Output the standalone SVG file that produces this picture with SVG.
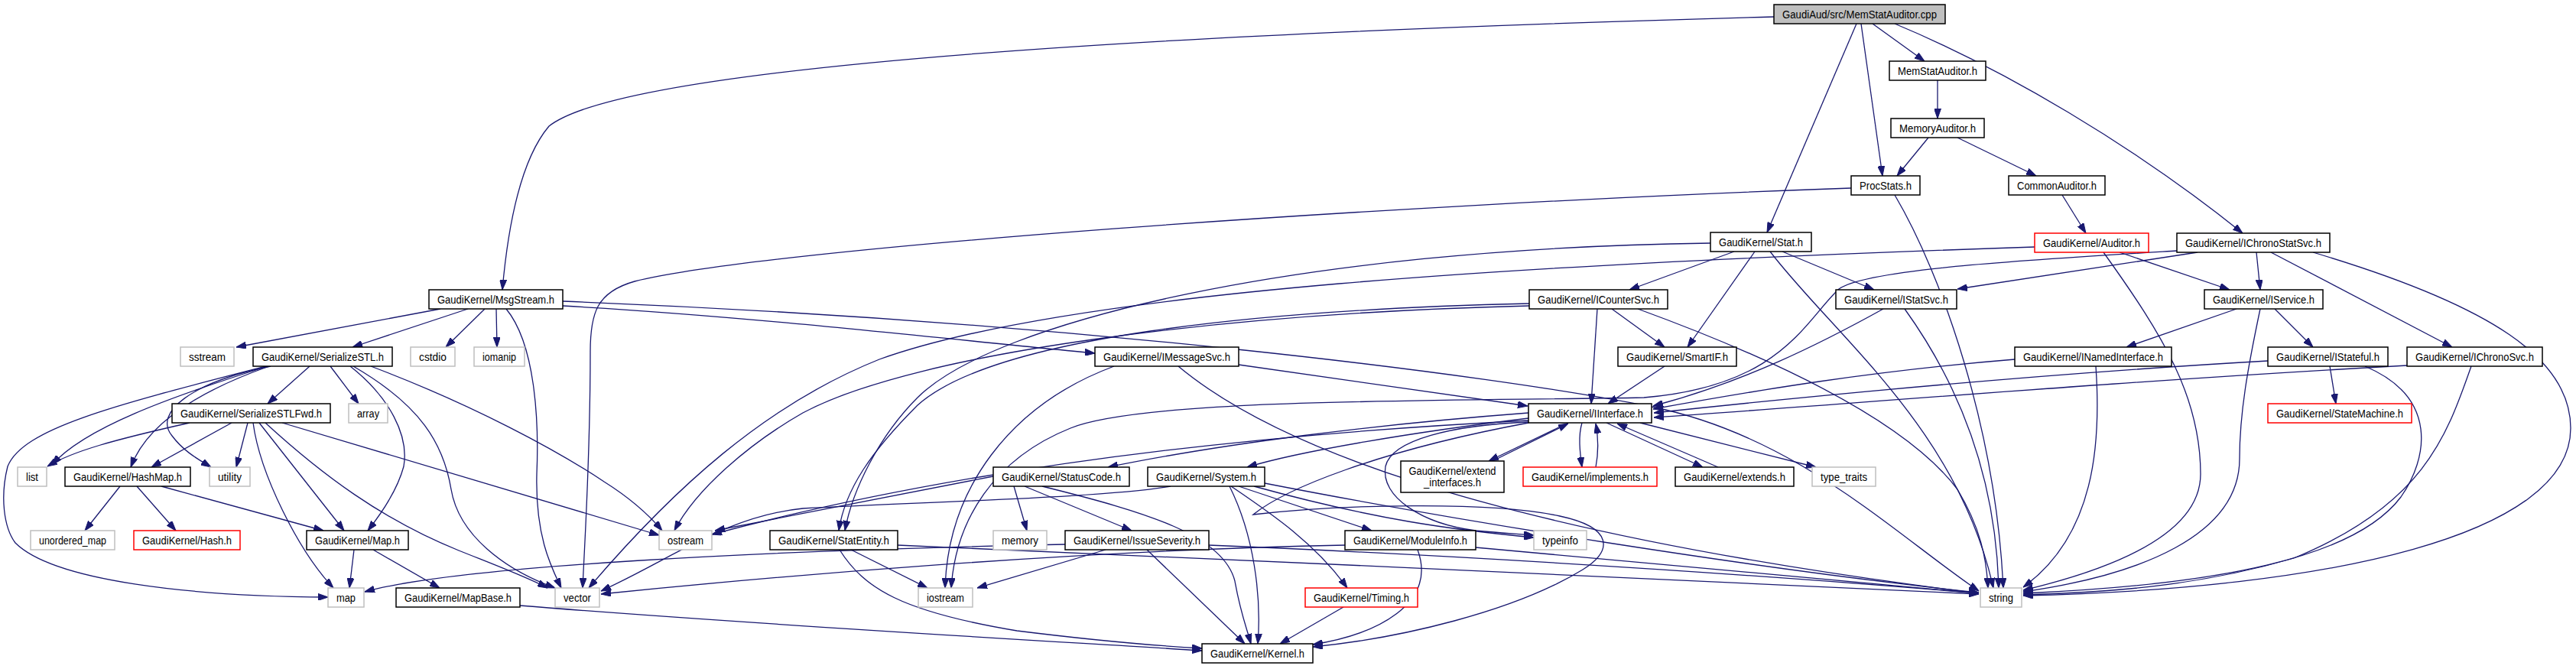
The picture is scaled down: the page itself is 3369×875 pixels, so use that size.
<svg xmlns="http://www.w3.org/2000/svg" width="3369" height="875" viewBox="0 0 3369 875">
<style>
.e{fill:none;stroke:#191970;stroke-width:1.3;marker-end:url(#a)}
.nd rect{fill:#fff;stroke:#000;stroke-width:1.5}
.g rect{stroke:#bfbfbf}
.r rect{stroke:#ff0000}
.top rect{fill:#bfbfbf}
text{font-family:"Liberation Sans",Arial,sans-serif;font-size:14px;text-anchor:middle;fill:#000}
</style>
<defs>
<marker id="a" viewBox="0 0 13 9" refX="13" refY="4.5" markerWidth="13" markerHeight="9" markerUnits="userSpaceOnUse" orient="auto"><path d="M0,0L13,4.5L0,9z" fill="#191970" stroke="#191970" stroke-width="1"/></marker>
</defs>
<rect width="3369" height="875" fill="#fff"/>
<g id="edges">
<path class="e" d="M2320,22 C1300,50 800,100 718,165 C680,210 664,300 657,379"/>
<path class="e" d="M2428,31 L2311,304"/>
<path class="e" d="M2434,31 L2462,230"/>
<path class="e" d="M2449,31 L2517,80"/>
<path class="e" d="M2478,31 C2620,90 2790,190 2933,305"/>
<path class="e" d="M2534,105 L2534,155"/>
<path class="e" d="M2522,180 L2481,230"/>
<path class="e" d="M2560,180 L2663,230"/>
<path class="e" d="M2697,255 L2728,305"/>
<path class="e" d="M2421,246 C1800,268 1000,325 830,368 C780,382 772,410 772,460 C772,600 765,700 762,769"/>
<path class="e" d="M2478,255 C2540,360 2610,560 2620,769"/>
<path class="e" d="M2772,330 L2916,379"/>
<path class="e" d="M2751,330 C2830,440 2878,520 2878,620 C2878,700 2760,745 2646,772"/>
<path class="e" d="M2661,323 C2000,345 1400,380 1150,470 C1000,530 880,640 770,769"/>
<path class="e" d="M2268,329 L2131,379"/>
<path class="e" d="M2295,329 L2207,454"/>
<path class="e" d="M2331,329 L2451,379"/>
<path class="e" d="M2315,329 C2400,440 2560,560 2607,769"/>
<path class="e" d="M2237,318 C1700,325 1300,420 1200,520 C1150,570 1115,640 1105,694"/>
<path class="e" d="M2089,404 L2081,528"/>
<path class="e" d="M2108,404 L2177,454"/>
<path class="e" d="M2142,404 C2350,480 2500,560 2560,640 C2590,690 2598,730 2600,769"/>
<path class="e" d="M2000,397 C1650,405 1300,440 1200,530 C1140,590 1105,640 1097,694"/>
<path class="e" d="M2000,400 C1600,410 1200,460 1050,540 C980,580 910,640 882,694"/>
<path class="e" d="M2463,404 C2380,450 2280,500 2162,531"/>
<path class="e" d="M2491,404 C2560,500 2610,620 2614,769"/>
<path class="e" d="M2951,330 L2956,379"/>
<path class="e" d="M2970,330 L3207,454"/>
<path class="e" d="M3025,330 C3260,400 3362,470 3362,560 C3362,700 3050,770 2646,779"/>
<path class="e" d="M2874,330 L2560,378"/>
<path class="e" d="M2847,328 C2650,340 2440,352 2405,378 C2360,420 2330,505 2150,520 C1900,525 1500,520 1400,560 C1300,600 1250,680 1244,769"/>
<path class="e" d="M2925,404 L2781,454"/>
<path class="e" d="M2975,404 L3025,454"/>
<path class="e" d="M2956,404 C2940,480 2929,540 2929,600 C2929,700 2800,752 2646,774"/>
<path class="e" d="M2635,470 C2450,485 2300,510 2162,535"/>
<path class="e" d="M2741,479 C2748,580 2740,700 2646,768"/>
<path class="e" d="M3047,479 L3055,528"/>
<path class="e" d="M2966,472 C2650,490 2350,520 2163,540"/>
<path class="e" d="M3093,479 C3190,520 3175,600 3140,650 C3080,730 2900,765 2646,776"/>
<path class="e" d="M3148,478 C2750,500 2400,530 2163,546"/>
<path class="e" d="M3232,479 C3200,570 3170,660 3000,730 C2870,768 2750,775 2646,778"/>
<path class="e" d="M2177,479 L2103,528"/>
<path class="e" d="M2051,553 L1947,603"/>
<path class="e" d="M2069,553 C2064,570 2066,590 2069,611"/>
<path class="e" d="M2101,553 L2227,611"/>
<path class="e" d="M2145,553 L2375,611"/>
<path class="e" d="M1999,540 C1800,555 1600,580 1449,611"/>
<path class="e" d="M1999,547 C1850,565 1700,590 1631,611"/>
<path class="e" d="M1999,550 C1700,565 1300,600 931,699"/>
<path class="e" d="M1999,552 C1900,556 1820,575 1812,610 C1805,650 1860,685 1930,694 C1960,697 1980,698 2006,700"/>
<path class="e" d="M1999,553 C1800,590 1680,640 1639,673 C1750,660 1950,655 2040,675 C2110,690 2110,720 2070,745 C1980,800 1830,835 1717,846"/>
<path class="e" d="M1952,603 L2051,554"/>
<path class="e" d="M2087,611 C2091,590 2090,570 2087,554"/>
<path class="e" d="M2247,611 L2115,554"/>
<path class="e" d="M1620,477 L1998,531"/>
<path class="e" d="M1457,479 C1320,530 1240,640 1236,769"/>
<path class="e" d="M1541,479 C1650,570 1900,690 2588,776"/>
<path class="e" d="M576,404 L309,454"/>
<path class="e" d="M612,404 L461,454"/>
<path class="e" d="M634,404 L583,454"/>
<path class="e" d="M649,404 L650,454"/>
<path class="e" d="M662,404 C700,450 705,550 702,620 C700,700 720,740 734,769"/>
<path class="e" d="M736,400 C1000,415 1250,445 1432,462"/>
<path class="e" d="M736,394 C1400,420 1950,490 2160,532 C2350,570 2480,700 2588,773"/>
<path class="e" d="M405,479 L350,528"/>
<path class="e" d="M432,479 L469,528"/>
<path class="e" d="M350,479 C220,520 110,560 68,608"/>
<path class="e" d="M348,479 C150,530 30,560 10,610 C0,650 5,690 20,710 C70,760 250,780 429,781"/>
<path class="e" d="M352,479 C250,515 190,560 171,611"/>
<path class="e" d="M354,479 C250,500 200,540 225,570 C240,590 258,600 276,611"/>
<path class="e" d="M458,479 C510,520 535,570 528,610 C520,640 500,670 481,694"/>
<path class="e" d="M462,479 C550,530 580,580 590,640 C600,700 660,745 726,769"/>
<path class="e" d="M485,479 C620,530 730,590 790,630 C825,652 850,675 866,694"/>
<path class="e" d="M248,553 C150,575 95,590 62,610"/>
<path class="e" d="M303,553 L198,611"/>
<path class="e" d="M324,553 L309,611"/>
<path class="e" d="M331,553 C340,620 390,720 436,769"/>
<path class="e" d="M339,553 L450,694"/>
<path class="e" d="M347,553 C420,620 500,680 600,720 C650,740 690,755 716,769"/>
<path class="e" d="M369,553 L862,700"/>
<path class="e" d="M157,636 L111,694"/>
<path class="e" d="M179,636 L230,694"/>
<path class="e" d="M211,636 L423,694"/>
<path class="e" d="M463,719 L457,769"/>
<path class="e" d="M488,719 L575,769"/>
<path class="e" d="M680,792 C1000,818 1400,840 1572,851"/>
<path class="e" d="M1113,719 L1213,769"/>
<path class="e" d="M1098,719 C1130,770 1180,800 1330,825 C1450,840 1520,845 1572,848"/>
<path class="e" d="M1174,713 C1600,730 2200,760 2588,777"/>
<path class="e" d="M1299,623 L935,694"/>
<path class="e" d="M1326,636 L1343,694"/>
<path class="e" d="M1340,636 L1480,694"/>
<path class="e" d="M1363,636 C1500,670 1600,700 1615,760 C1622,800 1630,820 1636,842"/>
<path class="e" d="M1608,636 C1640,700 1650,780 1645,842"/>
<path class="e" d="M1620,636 L1794,694"/>
<path class="e" d="M1640,636 C1800,680 1900,693 2006,703"/>
<path class="e" d="M1610,636 C1660,670 1720,710 1762,769"/>
<path class="e" d="M1654,632 C1900,680 2300,745 2588,775"/>
<path class="e" d="M1531,636 C1450,650 1250,655 1050,665 C950,675 880,730 786,773"/>
<path class="e" d="M1446,719 L1278,769"/>
<path class="e" d="M1500,719 L1628,842"/>
<path class="e" d="M1393,712 C1000,720 600,740 477,774"/>
<path class="e" d="M1581,713 C2000,730 2400,760 2588,776"/>
<path class="e" d="M1854,719 C1880,790 1800,830 1717,843"/>
<path class="e" d="M1930,716 C2200,740 2450,765 2588,776"/>
<path class="e" d="M1759,713 C1400,720 1000,755 786,777"/>
<path class="e" d="M1757,794 L1674,842"/>
</g>
<g id="n_cpp" class="nd top"><rect x="2320" y="6" width="224" height="25"/><text x="2432" y="24" textLength="202" lengthAdjust="spacingAndGlyphs">GaudiAud/src/MemStatAuditor.cpp</text></g>
<g id="n_msgstream" class="nd"><rect x="561" y="379" width="175" height="25"/><text x="648.5" y="397" textLength="153" lengthAdjust="spacingAndGlyphs">GaudiKernel/MsgStream.h</text></g>
<g id="n_sstream" class="nd g"><rect x="236" y="454" width="70" height="25"/><text x="271" y="472" textLength="48" lengthAdjust="spacingAndGlyphs">sstream</text></g>
<g id="n_serializestl" class="nd"><rect x="331" y="454" width="182" height="25"/><text x="422" y="472" textLength="160" lengthAdjust="spacingAndGlyphs">GaudiKernel/SerializeSTL.h</text></g>
<g id="n_cstdio" class="nd g"><rect x="537" y="454" width="58" height="25"/><text x="566" y="472" textLength="36" lengthAdjust="spacingAndGlyphs">cstdio</text></g>
<g id="n_iomanip" class="nd g"><rect x="620" y="454" width="66" height="25"/><text x="653" y="472" textLength="44" lengthAdjust="spacingAndGlyphs">iomanip</text></g>
<g id="n_serializestlfwd" class="nd"><rect x="225" y="528" width="207" height="25"/><text x="328.5" y="546" textLength="185" lengthAdjust="spacingAndGlyphs">GaudiKernel/SerializeSTLFwd.h</text></g>
<g id="n_array" class="nd g"><rect x="456" y="528" width="51" height="25"/><text x="481.5" y="546" textLength="29" lengthAdjust="spacingAndGlyphs">array</text></g>
<g id="n_list" class="nd g"><rect x="23" y="611" width="38" height="25"/><text x="42" y="629" textLength="16" lengthAdjust="spacingAndGlyphs">list</text></g>
<g id="n_hashmap" class="nd"><rect x="85" y="611" width="164" height="25"/><text x="167" y="629" textLength="142" lengthAdjust="spacingAndGlyphs">GaudiKernel/HashMap.h</text></g>
<g id="n_utility" class="nd g"><rect x="274" y="611" width="53" height="25"/><text x="300.5" y="629" textLength="31" lengthAdjust="spacingAndGlyphs">utility</text></g>
<g id="n_unordered_map" class="nd g"><rect x="40" y="694" width="110" height="25"/><text x="95" y="712" textLength="88" lengthAdjust="spacingAndGlyphs">unordered_map</text></g>
<g id="n_hash" class="nd r"><rect x="175" y="694" width="139" height="25"/><text x="244.5" y="712" textLength="117" lengthAdjust="spacingAndGlyphs">GaudiKernel/Hash.h</text></g>
<g id="n_map_h" class="nd"><rect x="401" y="694" width="133" height="25"/><text x="467.5" y="712" textLength="111" lengthAdjust="spacingAndGlyphs">GaudiKernel/Map.h</text></g>
<g id="n_map" class="nd g"><rect x="429" y="769" width="47" height="25"/><text x="452.5" y="787" textLength="25" lengthAdjust="spacingAndGlyphs">map</text></g>
<g id="n_mapbase" class="nd"><rect x="518" y="769" width="162" height="25"/><text x="599" y="787" textLength="140" lengthAdjust="spacingAndGlyphs">GaudiKernel/MapBase.h</text></g>
<g id="n_vector" class="nd g"><rect x="726" y="769" width="58" height="25"/><text x="755" y="787" textLength="36" lengthAdjust="spacingAndGlyphs">vector</text></g>
<g id="n_imessagesvc" class="nd"><rect x="1432" y="454" width="188" height="25"/><text x="1526" y="472" textLength="166" lengthAdjust="spacingAndGlyphs">GaudiKernel/IMessageSvc.h</text></g>
<g id="n_statuscode" class="nd"><rect x="1299" y="611" width="178" height="25"/><text x="1388" y="629" textLength="156" lengthAdjust="spacingAndGlyphs">GaudiKernel/StatusCode.h</text></g>
<g id="n_system" class="nd"><rect x="1501" y="611" width="153" height="25"/><text x="1577.5" y="629" textLength="131" lengthAdjust="spacingAndGlyphs">GaudiKernel/System.h</text></g>
<g id="n_ostream" class="nd g"><rect x="862" y="694" width="69" height="25"/><text x="896.5" y="712" textLength="47" lengthAdjust="spacingAndGlyphs">ostream</text></g>
<g id="n_statentity" class="nd"><rect x="1007" y="694" width="167" height="25"/><text x="1090.5" y="712" textLength="145" lengthAdjust="spacingAndGlyphs">GaudiKernel/StatEntity.h</text></g>
<g id="n_memory" class="nd g"><rect x="1299" y="694" width="70" height="25"/><text x="1334" y="712" textLength="48" lengthAdjust="spacingAndGlyphs">memory</text></g>
<g id="n_issueseverity" class="nd"><rect x="1393" y="694" width="188" height="25"/><text x="1487" y="712" textLength="166" lengthAdjust="spacingAndGlyphs">GaudiKernel/IssueSeverity.h</text></g>
<g id="n_iostream" class="nd g"><rect x="1201" y="769" width="71" height="25"/><text x="1236.5" y="787" textLength="49" lengthAdjust="spacingAndGlyphs">iostream</text></g>
<g id="n_kernel" class="nd"><rect x="1572" y="842" width="145" height="25"/><text x="1644.5" y="860" textLength="123" lengthAdjust="spacingAndGlyphs">GaudiKernel/Kernel.h</text></g>
<g id="n_stat" class="nd"><rect x="2237" y="304" width="132" height="25"/><text x="2303" y="322" textLength="110" lengthAdjust="spacingAndGlyphs">GaudiKernel/Stat.h</text></g>
<g id="n_icountersvc" class="nd"><rect x="2000" y="379" width="181" height="25"/><text x="2090.5" y="397" textLength="159" lengthAdjust="spacingAndGlyphs">GaudiKernel/ICounterSvc.h</text></g>
<g id="n_istatsvc" class="nd"><rect x="2401" y="379" width="158" height="25"/><text x="2480" y="397" textLength="136" lengthAdjust="spacingAndGlyphs">GaudiKernel/IStatSvc.h</text></g>
<g id="n_smartif" class="nd"><rect x="2116" y="454" width="155" height="25"/><text x="2193.5" y="472" textLength="133" lengthAdjust="spacingAndGlyphs">GaudiKernel/SmartIF.h</text></g>
<g id="n_iinterface" class="nd"><rect x="1999" y="528" width="161" height="25"/><text x="2079.5" y="546" textLength="139" lengthAdjust="spacingAndGlyphs">GaudiKernel/IInterface.h</text></g>
<g id="n_extend_interfaces" class="nd"><rect x="1832" y="603" width="135" height="41"/><text x="1899.5" y="621" textLength="114" lengthAdjust="spacingAndGlyphs">GaudiKernel/extend</text><text x="1899.5" y="636" textLength="75" lengthAdjust="spacingAndGlyphs">_interfaces.h</text></g>
<g id="n_implements" class="nd r"><rect x="1992" y="611" width="175" height="25"/><text x="2079.5" y="629" textLength="153" lengthAdjust="spacingAndGlyphs">GaudiKernel/implements.h</text></g>
<g id="n_extends" class="nd"><rect x="2191" y="611" width="155" height="25"/><text x="2268.5" y="629" textLength="133" lengthAdjust="spacingAndGlyphs">GaudiKernel/extends.h</text></g>
<g id="n_type_traits" class="nd g"><rect x="2370" y="611" width="83" height="25"/><text x="2411.5" y="629" textLength="61" lengthAdjust="spacingAndGlyphs">type_traits</text></g>
<g id="n_moduleinfo" class="nd"><rect x="1759" y="694" width="171" height="25"/><text x="1844.5" y="712" textLength="149" lengthAdjust="spacingAndGlyphs">GaudiKernel/ModuleInfo.h</text></g>
<g id="n_typeinfo" class="nd g"><rect x="2006" y="694" width="69" height="25"/><text x="2040.5" y="712" textLength="47" lengthAdjust="spacingAndGlyphs">typeinfo</text></g>
<g id="n_timing" class="nd r"><rect x="1707" y="769" width="147" height="25"/><text x="1780.5" y="787" textLength="125" lengthAdjust="spacingAndGlyphs">GaudiKernel/Timing.h</text></g>
<g id="n_string" class="nd g"><rect x="2590" y="769" width="54" height="25"/><text x="2617" y="787" textLength="32" lengthAdjust="spacingAndGlyphs">string</text></g>
<g id="n_memstatauditor" class="nd"><rect x="2471" y="80" width="126" height="25"/><text x="2534" y="98" textLength="104" lengthAdjust="spacingAndGlyphs">MemStatAuditor.h</text></g>
<g id="n_memoryauditor" class="nd"><rect x="2473" y="155" width="122" height="25"/><text x="2534" y="173" textLength="100" lengthAdjust="spacingAndGlyphs">MemoryAuditor.h</text></g>
<g id="n_procstats" class="nd"><rect x="2421" y="230" width="90" height="25"/><text x="2466" y="248" textLength="68" lengthAdjust="spacingAndGlyphs">ProcStats.h</text></g>
<g id="n_commonauditor" class="nd"><rect x="2627" y="230" width="126" height="25"/><text x="2690" y="248" textLength="104" lengthAdjust="spacingAndGlyphs">CommonAuditor.h</text></g>
<g id="n_auditor" class="nd r"><rect x="2661" y="305" width="149" height="25"/><text x="2735.5" y="323" textLength="127" lengthAdjust="spacingAndGlyphs">GaudiKernel/Auditor.h</text></g>
<g id="n_ichronostatsvc" class="nd"><rect x="2847" y="305" width="200" height="25"/><text x="2947" y="323" textLength="178" lengthAdjust="spacingAndGlyphs">GaudiKernel/IChronoStatSvc.h</text></g>
<g id="n_iservice" class="nd"><rect x="2883" y="379" width="155" height="25"/><text x="2960.5" y="397" textLength="133" lengthAdjust="spacingAndGlyphs">GaudiKernel/IService.h</text></g>
<g id="n_inamedinterface" class="nd"><rect x="2635" y="454" width="205" height="25"/><text x="2737.5" y="472" textLength="183" lengthAdjust="spacingAndGlyphs">GaudiKernel/INamedInterface.h</text></g>
<g id="n_istateful" class="nd"><rect x="2966" y="454" width="157" height="25"/><text x="3044.5" y="472" textLength="135" lengthAdjust="spacingAndGlyphs">GaudiKernel/IStateful.h</text></g>
<g id="n_ichronosvc" class="nd"><rect x="3148" y="454" width="177" height="25"/><text x="3236.5" y="472" textLength="155" lengthAdjust="spacingAndGlyphs">GaudiKernel/IChronoSvc.h</text></g>
<g id="n_statemachine" class="nd r"><rect x="2966" y="528" width="188" height="25"/><text x="3060" y="546" textLength="166" lengthAdjust="spacingAndGlyphs">GaudiKernel/StateMachine.h</text></g>
</svg>
